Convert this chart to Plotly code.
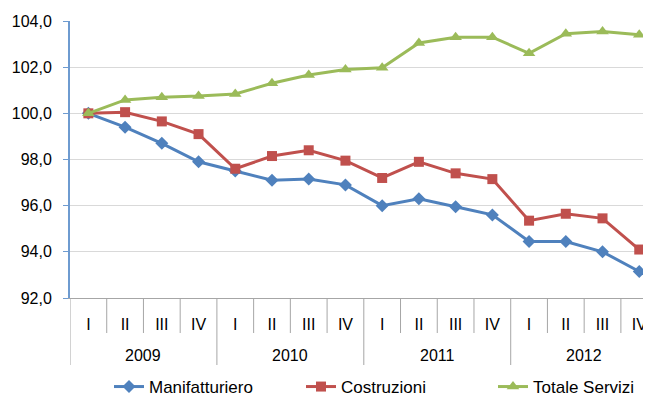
import plotly.graph_objects as go

years = ["2009", "2010", "2011", "2012"]
quarters = ["I", "II", "III", "IV"] * 4

manifatturiero = [100.0, 99.4, 98.7, 97.9, 97.5, 97.1, 97.15, 96.9,
                  96.0, 96.3, 95.95, 95.6, 94.45, 94.45, 94.0, 93.15]
costruzioni = [100.0, 100.05, 99.65, 99.1, 97.6, 98.15, 98.4, 97.95,
               97.2, 97.9, 97.4, 97.15, 95.35, 95.65, 95.45, 94.1]
servizi = [100.0, 100.58, 100.7, 100.75, 100.84, 101.3, 101.66, 101.9,
           101.97, 103.05, 103.3, 103.3, 102.6, 103.45, 103.55, 103.4]

x = list(range(len(quarters)))
FONT = "Liberation Sans, Arial, sans-serif"
GRAY = "#A6A6A6"
# page body has an 8px margin, so the figure is shrunk by 8px
W, H = 643, 392
ML, MT, MB = 62, 13, 102
PLOT_H = H - MT - MB

fig = go.Figure()
fig.add_trace(go.Scatter(x=x, y=manifatturiero, name="Manifatturiero", mode="lines+markers",
                         line=dict(color="#4F81BD", width=3),
                         marker=dict(symbol="diamond", size=10, color="#4F81BD"),
                         cliponaxis=False))
fig.add_trace(go.Scatter(x=x, y=costruzioni, name="Costruzioni", mode="lines+markers",
                         line=dict(color="#C0504D", width=3),
                         marker=dict(symbol="square", size=10, color="#C0504D"),
                         cliponaxis=False))
fig.add_trace(go.Scatter(x=x, y=servizi, name="Totale Servizi", mode="lines+markers",
                         line=dict(color="#9BBB59", width=3),
                         marker=dict(symbol="triangle-up", size=11, color="#9BBB59"),
                         cliponaxis=False))

shapes = []
for i in range(len(quarters)):
    if i % 4 != 0:
        shapes.append(dict(type="line", xref="x", yref="paper", x0=i - 0.5, x1=i - 0.5,
                           y0=0, y1=-35 / PLOT_H, line=dict(color=GRAY, width=1)))
for k in range(len(years) + 1):
    xv = 4 * k - 0.5
    shapes.append(dict(type="line", xref="x", yref="paper", x0=xv, x1=xv,
                       y0=0, y1=-67 / PLOT_H, line=dict(color=GRAY, width=1)))

annotations = []
for k, yr in enumerate(years):
    annotations.append(dict(text=yr, x=4 * k + 1.5, xref="x", y=-57 / PLOT_H, yref="paper",
                            showarrow=False, yanchor="middle", xanchor="center",
                            font=dict(family=FONT, size=16, color="#000000")))

fig.update_layout(
    width=W, height=H,
    margin=dict(l=ML, r=0, t=MT, b=MB, autoexpand=False),
    paper_bgcolor="white", plot_bgcolor="white",
    separators=",.",
    font=dict(family=FONT, size=16, color="#000000"),
    showlegend=True,
    legend=dict(orientation="h", x=101 / W, xanchor="left", xref="container",
                y=13 / H, yanchor="middle", yref="container",
                entrywidth=147, entrywidthmode="pixels",
                font=dict(size=17), traceorder="normal"),
    shapes=shapes,
    annotations=annotations,
    xaxis=dict(range=[-0.5, 15.32], tickmode="array", tickvals=x, ticktext=quarters,
               showline=True, linecolor=GRAY, linewidth=1, ticks="",
               ticklabelstandoff=12, showgrid=False, zeroline=False,
               automargin=False, tickfont=dict(size=16)),
    yaxis=dict(range=[92, 104], dtick=2, tickformat=".1f",
               showline=True, linecolor="#6E9BD0", linewidth=2,
               ticks="outside", ticklen=5, tickcolor="#6E9BD0",
               ticklabelstandoff=8,
               showgrid=True, gridcolor="#D9D9D9", gridwidth=1,
               zeroline=False, automargin=False, tickfont=dict(size=16)),
)

fig.write_html("out.html")
